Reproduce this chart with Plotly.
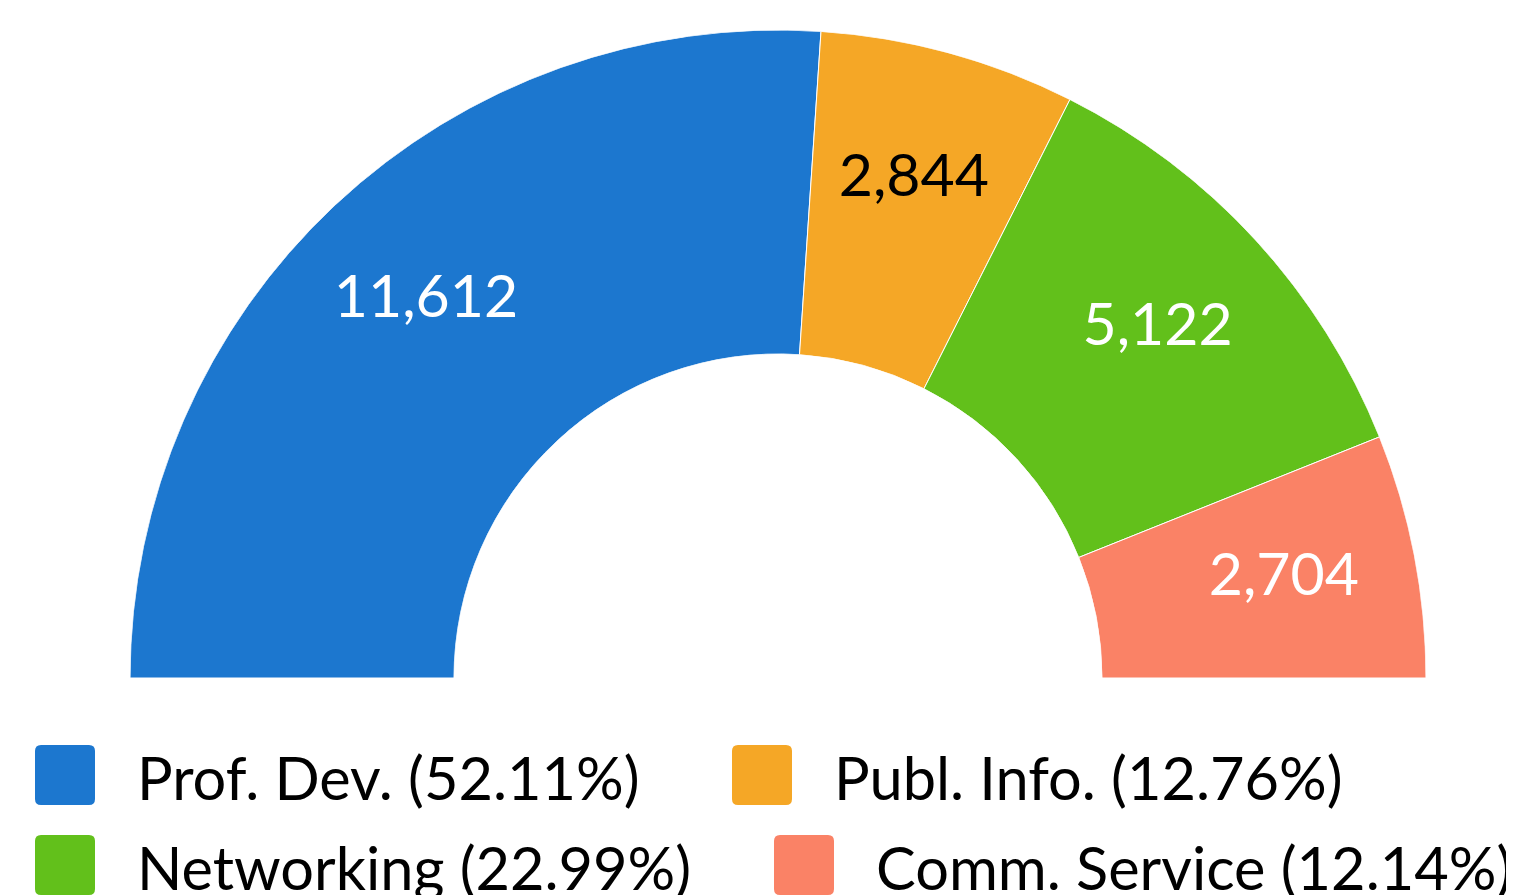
import plotly.graph_objects as go

# ---- data ----
categories = ["Prof. Dev.", "Publ. Info.", "Networking", "Comm. Service"]
values = [11612, 2844, 5122, 2704]
colors = ["#1C77CF", "#F5A726", "#62C01B", "#FA8266"]
label_colors = ["white", "black", "white", "white"]

W, H = 1514, 895
FONT = "Lato"
OFF = 8  # page offset of the plot div

total = sum(values)
widths = [v / total * 180 for v in values]
centers = []
acc = 0
for w in widths:
    centers.append(acc + w / 2)
    acc += w
percents = [v / total * 100 for v in values]

fig = go.Figure()
fig.add_trace(go.Barpolar(
    r=[1] * len(values), theta=centers, width=widths,
    marker=dict(color=colors, line=dict(color="white", width=1)),
    hoverinfo="skip", showlegend=False,
))
fig.add_trace(go.Scatterpolar(
    r=[0.59] * len(values), theta=centers, mode="text",
    text=[f"{v:,}" for v in values],
    textfont=dict(family=FONT, size=59, color=label_colors),
    textposition="middle center", cliponaxis=False,
    hoverinfo="skip", showlegend=False,
))

# circle geometry in pixels (figure space)
cx, cy, R = 778 - OFF, 678 - OFF, 648
fig.update_layout(
    width=W, height=H,
    margin=dict(l=0, r=0, t=0, b=0),
    paper_bgcolor="white", plot_bgcolor="white",
    showlegend=False,
    polar=dict(
        domain=dict(x=[(cx - R) / W, (cx + R) / W], y=[(H - cy) / H, (H - cy + R) / H]),
        sector=[0, 180], hole=0.5, bargap=0, bgcolor="white",
        angularaxis=dict(rotation=180, direction="clockwise", visible=False,
                         showgrid=False, showline=False, showticklabels=False, ticks=""),
        radialaxis=dict(range=[0, 1], visible=False, showgrid=False,
                        showline=False, showticklabels=False, ticks=""),
    ),
)

# ---- custom legend ----
legend_pos = [(35, 745), (732, 745), (35, 835), (774, 835)]  # swatch top-left px (screen)
sw, rad, gap = 60, 6, 42
shapes, annotations = [], []
for i, (sx, sy) in enumerate(legend_pos):
    x0, y0 = sx - OFF, sy - OFF
    x1, y1 = x0 + sw, y0 + sw
    def px(x):
        return x / W
    def py(y):
        return 1 - y / H
    path = (f"M {px(x0+rad)},{py(y0)} L {px(x1-rad)},{py(y0)} "
            f"Q {px(x1)},{py(y0)} {px(x1)},{py(y0+rad)} L {px(x1)},{py(y1-rad)} "
            f"Q {px(x1)},{py(y1)} {px(x1-rad)},{py(y1)} L {px(x0+rad)},{py(y1)} "
            f"Q {px(x0)},{py(y1)} {px(x0)},{py(y1-rad)} L {px(x0)},{py(y0+rad)} "
            f"Q {px(x0)},{py(y0)} {px(x0+rad)},{py(y0)} Z")
    shapes.append(dict(type="path", xref="paper", yref="paper", path=path,
                       fillcolor=colors[i], line=dict(width=0)))
    annotations.append(dict(
        xref="paper", yref="paper", x=px(x1 + gap - 2), y=py(y0 + sw / 2 + 2),
        xanchor="left", yanchor="middle", showarrow=False,
        text=f"{categories[i]} ({percents[i]:.2f}%)",
        font=dict(family=FONT, size=59.5, color="black"),
    ))
fig.update_layout(shapes=shapes, annotations=annotations)

fig.write_html("out.html")
